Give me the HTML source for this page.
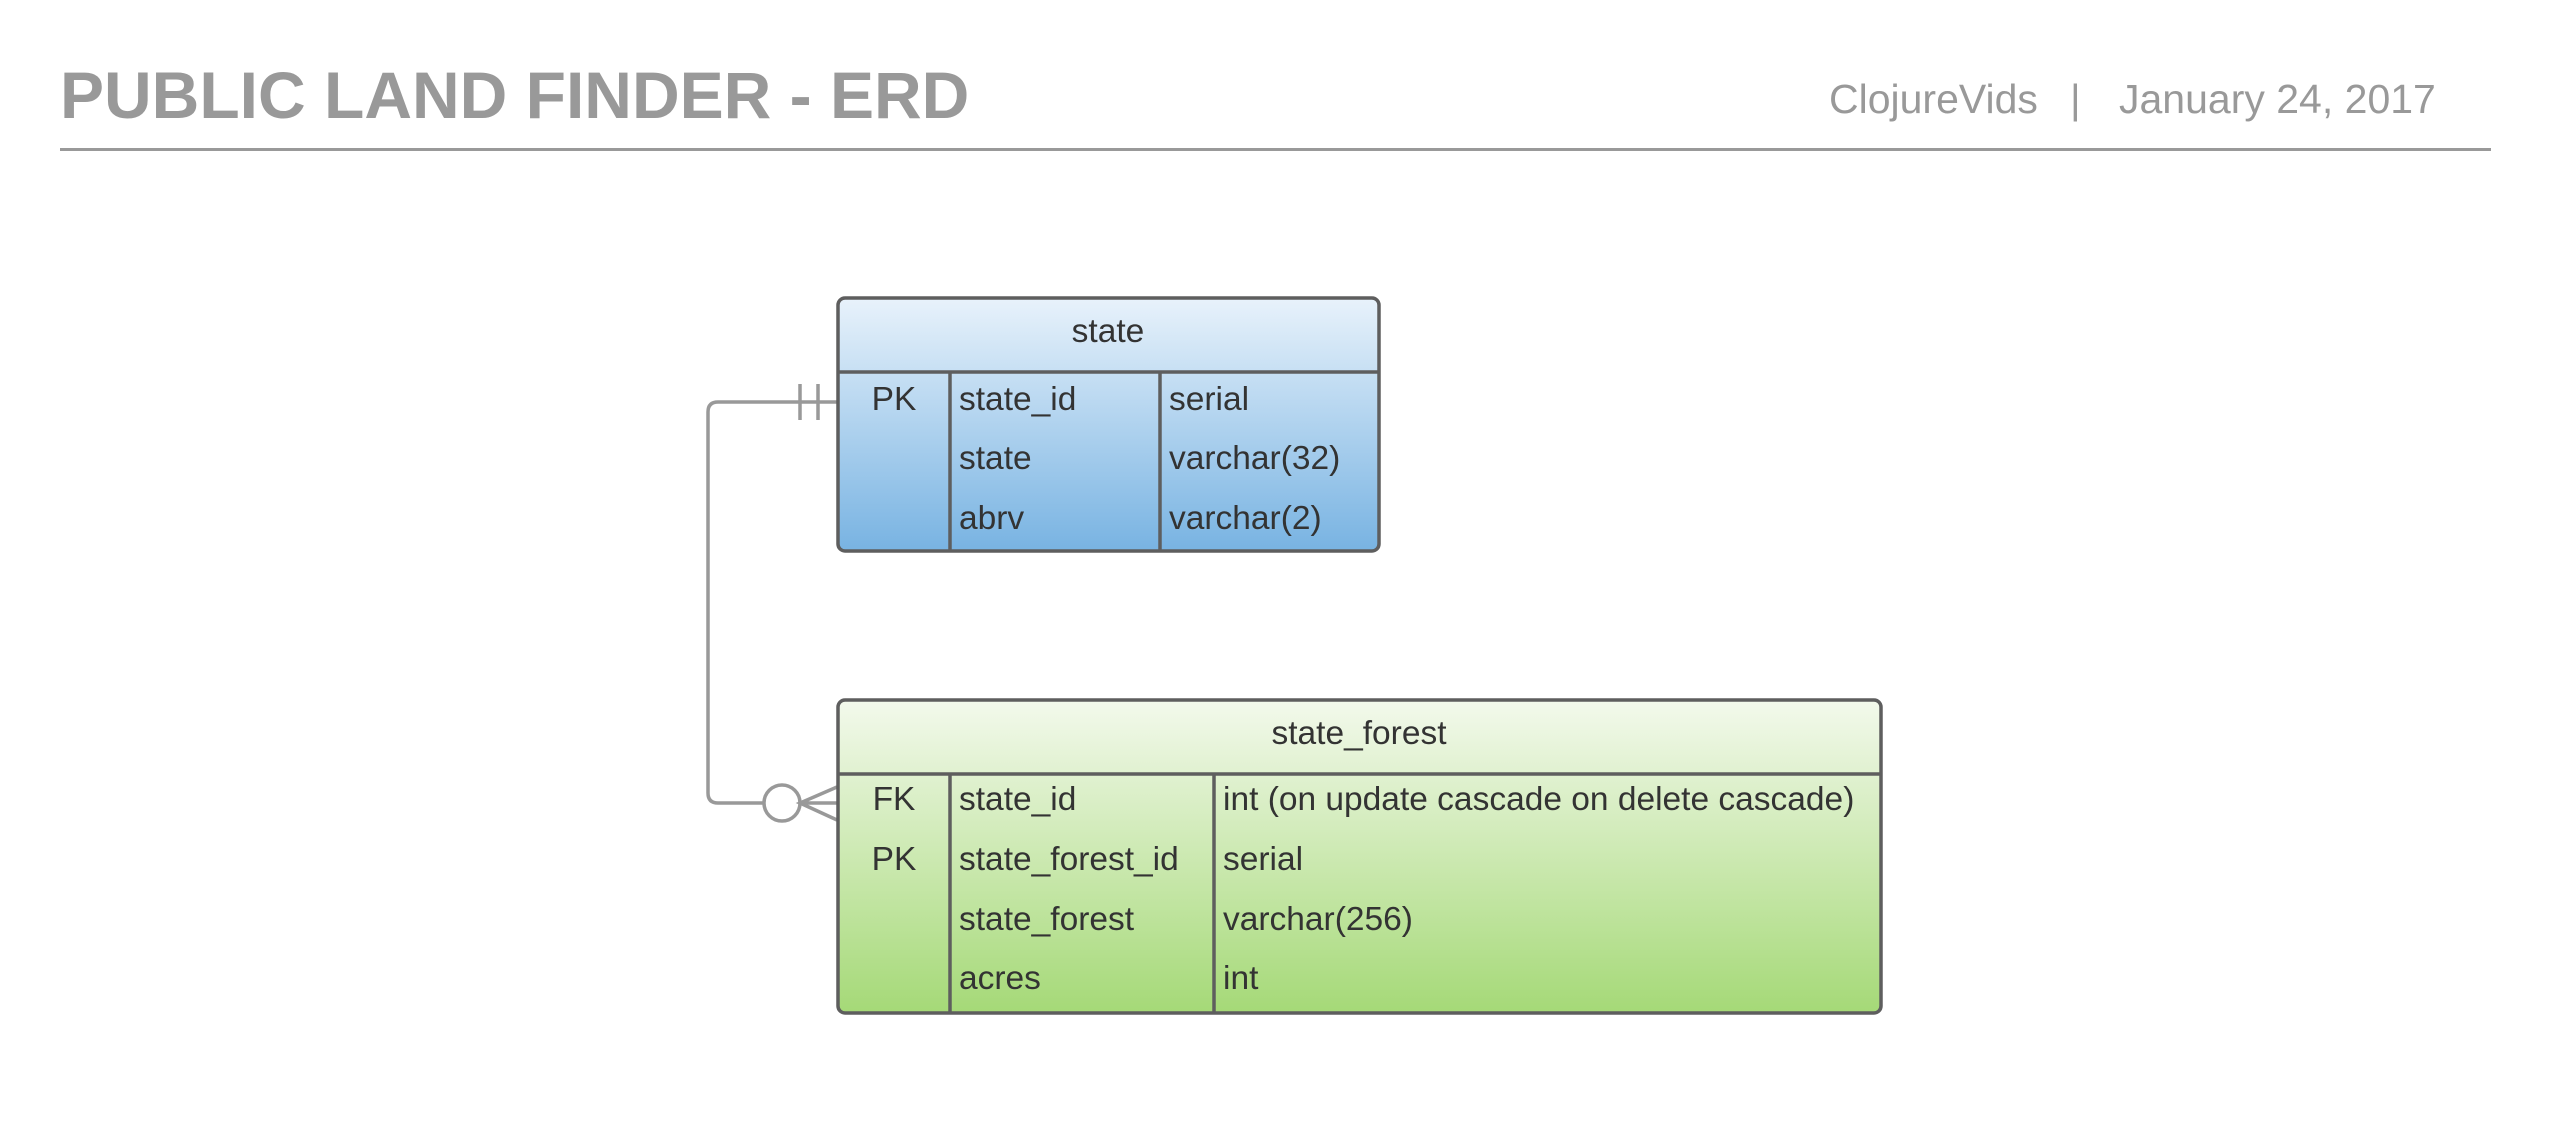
<!DOCTYPE html>
<html><head><meta charset="utf-8"><style>
html,body{margin:0;padding:0;background:#fff;}
svg{display:block;}
text{font-family:"Liberation Sans",Arial,sans-serif;}
</style></head><body>
<svg width="2550" height="1148" viewBox="0 0 2550 1148" xmlns="http://www.w3.org/2000/svg">
<defs>
<linearGradient id="gb" x1="0" y1="0" x2="0" y2="1"><stop offset="0" stop-color="#e8f2fb"/><stop offset="1" stop-color="#78b3e2"/></linearGradient>
<linearGradient id="gg" x1="0" y1="0" x2="0" y2="1"><stop offset="0" stop-color="#f3f9ec"/><stop offset="1" stop-color="#a5d977"/></linearGradient>
</defs>
<text x="60" y="118" font-size="66" font-weight="bold" fill="#999">PUBLIC LAND FINDER - ERD</text>
<text x="1829" y="113" font-size="41" fill="#999">ClojureVids</text>
<text x="2070" y="113" font-size="41" fill="#999">|</text>
<text x="2119" y="113" font-size="41" fill="#999">January 24, 2017</text>
<rect x="60" y="148" width="2431" height="3" fill="#999"/>

<!-- connector -->
<path d="M837 402 H718 Q708 402 708 412 V793 Q708 803 718 803 H764" fill="none" stroke="#999" stroke-width="3.5"/>
<line x1="800" y1="384" x2="800" y2="420" stroke="#999" stroke-width="3.5"/>
<line x1="818" y1="384" x2="818" y2="420" stroke="#999" stroke-width="3.5"/>
<circle cx="782" cy="803" r="18" fill="#fff" stroke="#999" stroke-width="3.5"/>
<path d="M837 787 L800 803 L837 820 M800 803 H837" fill="none" stroke="#999" stroke-width="3.5"/>

<!-- state -->
<rect x="838" y="298" width="541" height="253" rx="7" fill="url(#gb)" stroke="#5e5e5e" stroke-width="3.5"/>
<line x1="838" y1="372" x2="1379" y2="372" stroke="#5e5e5e" stroke-width="3.5"/>
<line x1="950" y1="372" x2="950" y2="551" stroke="#5e5e5e" stroke-width="3.5"/>
<line x1="1160" y1="372" x2="1160" y2="551" stroke="#5e5e5e" stroke-width="3.5"/>
<g font-size="33.5" fill="#333">
<text x="1108" y="342" text-anchor="middle">state</text>
<text x="894" y="410" text-anchor="middle">PK</text>
<text x="959" y="410">state_id</text>
<text x="1169" y="410">serial</text>
<text x="959" y="469">state</text>
<text x="1169" y="469">varchar(32)</text>
<text x="959" y="529">abrv</text>
<text x="1169" y="529">varchar(2)</text>
</g>

<!-- state_forest -->
<rect x="838" y="700" width="1043" height="313" rx="7" fill="url(#gg)" stroke="#5e5e5e" stroke-width="3.5"/>
<line x1="838" y1="774" x2="1881" y2="774" stroke="#5e5e5e" stroke-width="3.5"/>
<line x1="950" y1="774" x2="950" y2="1013" stroke="#5e5e5e" stroke-width="3.5"/>
<line x1="1214" y1="774" x2="1214" y2="1013" stroke="#5e5e5e" stroke-width="3.5"/>
<g font-size="33.5" fill="#333">
<text x="1359" y="744" text-anchor="middle">state_forest</text>
<text x="894" y="810" text-anchor="middle">FK</text>
<text x="959" y="810">state_id</text>
<text x="1223" y="810">int (on update cascade on delete cascade)</text>
<text x="894" y="870" text-anchor="middle">PK</text>
<text x="959" y="870">state_forest_id</text>
<text x="1223" y="870">serial</text>
<text x="959" y="930">state_forest</text>
<text x="1223" y="930">varchar(256)</text>
<text x="959" y="989">acres</text>
<text x="1223" y="989">int</text>
</g>
</svg>
</body></html>
